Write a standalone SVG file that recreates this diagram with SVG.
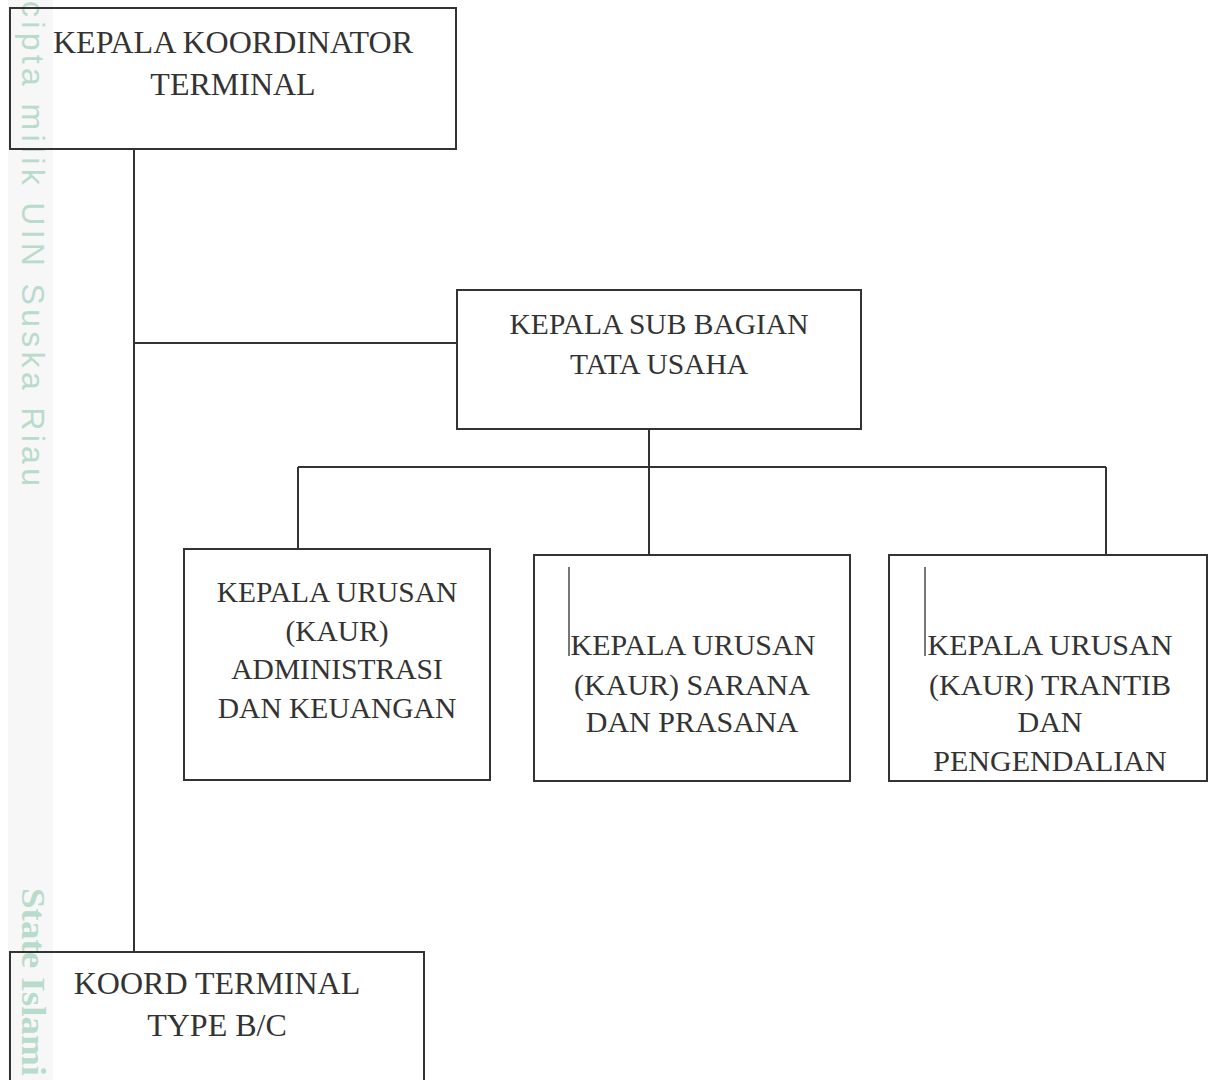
<svg xmlns="http://www.w3.org/2000/svg" width="1214" height="1080" viewBox="0 0 1214 1080">
<style>
.box{fill:none;stroke:#333;stroke-width:2}
.ln{fill:none;stroke:#333;stroke-width:2}
.t{font-family:"Liberation Serif","Times New Roman",serif;fill:#333;text-anchor:middle}
.t32{font-size:32px}
.t30{font-size:30px}
.t29{font-size:29.5px}
.cur{stroke:#777;stroke-width:2}
.wm{fill:#b8dbcb}
</style>
<rect x="0" y="0" width="1214" height="1080" fill="#ffffff"/>
<g id="watermark">
<rect x="8" y="0" width="45" height="1080" fill="#f7f7f7"/>
<text class="wm" transform="translate(22,1) rotate(90)" font-family="Liberation Sans, Arial, sans-serif" font-size="32" textLength="485" lengthAdjust="spacing">cipta milik UIN Suska Riau</text>
<text class="wm" transform="translate(22,888) rotate(90)" font-family="Liberation Serif, Times New Roman, serif" font-weight="bold" font-size="34" textLength="188" lengthAdjust="spacingAndGlyphs">State Islami</text>
</g>
<g id="connectors">
<line class="ln" x1="134" y1="149" x2="134" y2="953"/>
<line class="ln" x1="134" y1="343" x2="457" y2="343"/>
<line class="ln" x1="649" y1="429" x2="649" y2="555"/>
<line class="ln" x1="298" y1="467" x2="1106" y2="467"/>
<line class="ln" x1="298" y1="467" x2="298" y2="549"/>
<line class="ln" x1="1106" y1="467" x2="1106" y2="555"/>
</g>
<g id="kepala-koordinator">
<rect class="box" x="10" y="8" width="446" height="141"/>
<text class="t t32" x="233" y="53">KEPALA KOORDINATOR</text>
<text class="t t32" x="233" y="95">TERMINAL</text>
</g>
<g id="kasubag-tu">
<rect class="box" x="457" y="290" width="404" height="139"/>
<text class="t t29" x="659" y="334">KEPALA SUB BAGIAN</text>
<text class="t t29" x="659" y="374">TATA USAHA</text>
</g>
<g id="kaur-adm">
<rect class="box" x="184" y="549" width="306" height="231"/>
<text class="t t29" x="337" y="602">KEPALA URUSAN</text>
<text class="t t29" x="337" y="641">(KAUR)</text>
<text class="t t29" x="337" y="679">ADMINISTRASI</text>
<text class="t t29" x="337" y="718">DAN KEUANGAN</text>
</g>
<g id="kaur-sarana">
<rect class="box" x="534" y="555" width="316" height="226"/>
<line class="cur" x1="569" y1="567" x2="569" y2="656"/>
<text class="t t30" x="693" y="655">KEPALA URUSAN</text>
<text class="t t30" x="692" y="695">(KAUR) SARANA</text>
<text class="t t30" x="692" y="732">DAN PRASANA</text>
</g>
<g id="kaur-trantib">
<rect class="box" x="889" y="555" width="318" height="226"/>
<line class="cur" x1="925" y1="567" x2="925" y2="656"/>
<text class="t t30" x="1050" y="655">KEPALA URUSAN</text>
<text class="t t30" x="1050" y="695">(KAUR) TRANTIB</text>
<text class="t t30" x="1050" y="732">DAN</text>
<text class="t t30" x="1050" y="771">PENGENDALIAN</text>
</g>
<g id="koord-terminal">
<rect class="box" x="10" y="952" width="414" height="140"/>
<text class="t t32" x="217" y="994">KOORD TERMINAL</text>
<text class="t t32" x="217" y="1036">TYPE B/C</text>
</g>
</svg>
